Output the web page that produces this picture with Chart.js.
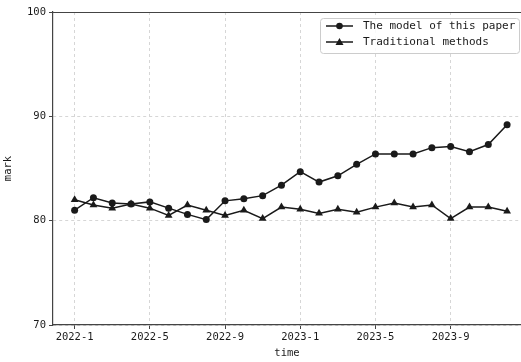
<!DOCTYPE html>
<html>
<head>
<meta charset="utf-8">
<script src="https://cdn.jsdelivr.net/npm/chart.js@4"></script>
<style>
  html, body { margin: 0; padding: 0; background: #fff; overflow: hidden; }
  canvas { display: block; }
</style>
</head>
<body>
<canvas id="c" width="521" height="362"></canvas>
<script>
// months on the x axis, one point per month
const months = [
  '2022-1', '2022-2', '2022-3', '2022-4', '2022-5', '2022-6',
  '2022-7', '2022-8', '2022-9', '2022-10', '2022-11', '2022-12',
  '2023-1', '2023-2', '2023-3', '2023-4', '2023-5', '2023-6',
  '2023-7', '2023-8', '2023-9', '2023-10', '2023-11', '2023-12'
]
const modelScores = [81.0, 82.2, 81.7, 81.6, 81.8, 81.2, 80.6, 80.1, 81.9, 82.1, 82.4, 83.4,
  84.7, 83.7, 84.3, 85.4, 86.4, 86.4, 86.4, 87.0, 87.1, 86.6, 87.3, 89.2]
const traditionalScores = [82.0, 81.5, 81.2, 81.6, 81.2, 80.5, 81.5, 81.0, 80.5, 81.0, 80.2, 81.3,
  81.1, 80.7, 81.1, 80.8, 81.3, 81.7, 81.3, 81.5, 80.2, 81.3, 81.3, 80.9]
const xTickIdx = [0, 4, 8, 12, 16, 20]
const yTicks = [70, 80, 90, 100]

const FONT = "'DejaVu Sans Mono', 'Liberation Mono', monospace"
const INK = '#1a1a1a'

const toPoints = arr => arr.map((v, i) => ({ x: i, y: v }))

// top spine; the figure is cut on the right so there is no right spine
const frame = {
  id: 'frame',
  afterDraw (chart) {
    const a = chart.chartArea
    const ctx = chart.ctx
    ctx.save()
    ctx.strokeStyle = '#444'
    ctx.lineWidth = 1.2
    ctx.beginPath()
    ctx.moveTo(a.left, a.top + 0.5)
    ctx.lineTo(chart.width, a.top + 0.5)
    ctx.stroke()
    ctx.restore()
  }
}

// legend drawn with a line + marker sample, like matplotlib
const lineLegend = {
  id: 'lineLegend',
  afterDraw (chart) {
    const ctx = chart.ctx
    const x0 = 320.5, y0 = 18.5, w = 199, h = 35
    ctx.save()
    ctx.fillStyle = 'rgba(255,255,255,0.85)'
    ctx.strokeStyle = '#cccccc'
    ctx.lineWidth = 1
    ctx.beginPath()
    ctx.roundRect(x0, y0, w, h, 3)
    ctx.fill()
    ctx.stroke()
    chart.data.datasets.forEach((ds, i) => {
      const y = 26 + i * 16
      ctx.strokeStyle = INK
      ctx.lineWidth = 1.5
      ctx.beginPath()
      ctx.moveTo(326, y)
      ctx.lineTo(353, y)
      ctx.stroke()
      ctx.fillStyle = INK
      ctx.beginPath()
      if (ds.pointStyle === 'triangle') {
        ctx.moveTo(339.5, y - 4)
        ctx.lineTo(343.5, y + 3)
        ctx.lineTo(335.5, y + 3)
        ctx.closePath()
      } else {
        ctx.arc(339.5, y, 3.3, 0, Math.PI * 2)
      }
      ctx.fill()
      ctx.font = '11px ' + FONT
      ctx.textBaseline = 'middle'
      ctx.fillText(ds.label, 363, y + 0.5)
    })
    ctx.restore()
  }
}

new Chart(document.getElementById('c'), {
  type: 'line',
  data: {
    datasets: [{
      label: 'The model of this paper',
      data: toPoints(modelScores),
      borderColor: INK,
      backgroundColor: INK,
      borderWidth: 1.5,
      pointStyle: 'circle',
      pointRadius: 3.5,
      pointBorderWidth: 0
    }, {
      label: 'Traditional methods',
      data: toPoints(traditionalScores),
      borderColor: INK,
      backgroundColor: INK,
      borderWidth: 1.5,
      pointStyle: 'triangle',
      pointRadius: 4.5,
      pointBorderWidth: 0
    }]
  },
  options: {
    responsive: false,
    animation: false,
    layout: { autoPadding: false, padding: { top: 12, right: 0, left: 0, bottom: 0 } },
    plugins: { legend: { display: false }, tooltip: { enabled: false } },
    scales: {
      x: {
        type: 'linear',
        min: -1.15,
        max: 23.74,
        afterBuildTicks: s => { s.ticks = xTickIdx.map(v => ({ value: v })) },
        afterFit: s => { s.height = 37; s.paddingLeft = 0; s.paddingRight = 0 },
        ticks: {
          color: INK,
          font: { family: FONT, size: 10.5 },
          padding: 2,
          maxRotation: 0,
          callback: v => months[v]
        },
        grid: { color: '#d6d6d6', tickLength: 4, tickColor: '#444', lineWidth: 1 },
        border: { dash: [3, 3], color: '#444', width: 1.2 },
        title: {
          display: true,
          text: 'time',
          color: INK,
          font: { family: FONT, size: 10.5 },
          padding: { top: 0, bottom: 2.5 }
        }
      },
      y: {
        min: 70,
        max: 100,
        afterBuildTicks: s => { s.ticks = yTicks.map(v => ({ value: v })) },
        afterFit: s => { s.width = 53 },
        ticks: {
          color: INK,
          font: { family: FONT, size: 10.5 },
          padding: 3
        },
        grid: { color: '#d6d6d6', tickLength: 4, tickColor: '#444', lineWidth: 1 },
        border: { dash: [3, 3], color: '#444', width: 1.2 },
        title: {
          display: true,
          text: 'mark',
          color: INK,
          font: { family: FONT, size: 10.5 },
          padding: { top: 2, bottom: 0 }
        }
      }
    }
  },
  plugins: [frame, lineLegend]
})
</script>
</body>
</html>
